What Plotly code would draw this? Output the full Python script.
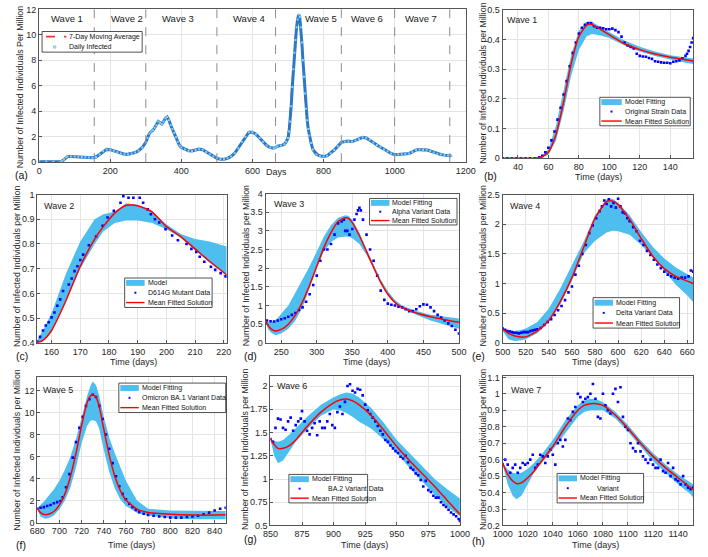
import plotly.graph_objects as go

W, H = 708, 557
FONT = "Liberation Sans, Arial, sans-serif"
BAND = "#4DBEEE"
DOT = "#0000FF"
RED = "#FF0000"

# ---------------- Panel (a): whole period ----------------
a_days = [0, 20, 40, 60, 65, 70, 75, 80, 90, 100, 110, 120, 130, 140, 150, 160, 170, 180, 190, 200,
          210, 220, 230, 240, 250, 260, 270, 280, 290, 300, 305, 310, 315, 320, 325, 330, 335, 340, 345,
          350, 355, 360, 365, 370, 375, 380, 385, 390, 395, 400, 410, 420, 430, 440, 450, 460, 470, 480,
          490, 500, 510, 520, 530, 540, 550, 560, 570, 580, 590, 600, 610, 620, 630, 640, 650, 660, 665,
          670, 680, 690, 695, 700, 703, 706, 709, 712, 715, 718, 721, 724, 727, 730, 733, 736, 739, 742,
          745, 748, 751, 754, 757, 760, 765, 770, 780, 790, 800, 810, 820, 830, 840, 850, 860, 870, 880,
          890, 900, 910, 920, 930, 940, 950, 960, 970, 980, 990, 1000, 1010, 1020, 1030, 1040, 1050, 1060,
          1070, 1080, 1090, 1100, 1110, 1120, 1130, 1140, 1150, 1160]
a_daily = [0.02, 0.02, 0.02, 0.03, 0.1, 0.22, 0.38, 0.44, 0.45, 0.44, 0.43, 0.41, 0.38, 0.36, 0.35, 0.4,
           0.6, 0.85, 1.0, 0.98, 0.9, 0.78, 0.68, 0.62, 0.62, 0.68, 0.75, 0.9, 1.15, 1.55, 1.9, 2.25, 2.4,
           2.5, 2.7, 2.9, 3.2, 3.1, 3.0, 3.2, 3.45, 3.55, 3.3, 2.9, 2.6, 2.3, 1.95, 1.6, 1.3, 1.15, 1.0,
           0.9, 0.88, 0.95, 1.02, 0.98, 0.8, 0.62, 0.45, 0.3, 0.22, 0.22, 0.3, 0.45, 0.7, 1.1, 1.6, 2.0,
           2.35, 2.35, 2.2, 1.9, 1.6, 1.3, 1.15, 1.1, 1.15, 1.25, 1.3, 1.4, 1.6, 1.9, 2.4, 3.2, 4.4, 5.9,
           7.3, 8.6, 9.6, 10.6, 11.2, 11.6, 11.4, 10.6, 9.4, 8.0, 6.7, 5.4, 4.2, 3.3, 2.6, 2.1, 1.5, 1.0,
           0.6, 0.5, 0.45, 0.5, 0.7, 0.95, 1.25, 1.55, 1.62, 1.65, 1.6, 1.7, 1.82, 1.95, 1.9, 1.75, 1.55,
           1.35, 1.2, 1.0, 0.85, 0.68, 0.58, 0.6, 0.62, 0.65, 0.68, 0.8, 0.95, 1.0, 0.95, 0.97, 0.88, 0.75,
           0.65, 0.6, 0.55, 0.52, 0.48]
ma_days = [0, 40, 60, 70, 80, 100, 130, 150, 170, 190, 210, 240, 270, 290, 300, 310, 320, 335, 345,
           360, 370, 380, 390, 400, 420, 450, 470, 500, 520, 540, 560, 580, 595, 610, 630, 650, 665, 680,
           695, 703, 709, 715, 721, 727, 731, 735, 740, 745, 750, 755, 760, 770, 790, 810, 830, 850, 870,
           890, 910, 930, 950, 970, 990, 1010, 1040, 1060, 1070, 1090, 1110, 1130, 1160]
ma_vals = [0.02, 0.02, 0.03, 0.22, 0.44, 0.44, 0.38, 0.35, 0.6, 1.0, 0.9, 0.62, 0.75, 1.15, 1.55, 2.25,
           2.5, 3.2, 3.0, 3.55, 2.9, 2.3, 1.6, 1.15, 0.9, 1.02, 0.8, 0.3, 0.22, 0.45, 1.1, 2.0, 2.38, 2.2,
           1.6, 1.15, 1.15, 1.3, 1.6, 2.6, 4.8, 7.6, 9.9, 11.3, 11.55, 10.9, 9.1, 6.8, 4.4, 3.1, 2.1, 1.0,
           0.5, 0.5, 0.95, 1.55, 1.65, 1.7, 1.95, 1.75, 1.35, 1.0, 0.68, 0.6, 0.68, 0.95, 1.0, 0.97, 0.75,
           0.6, 0.48]
wave_bounds = [155, 300, 500, 665, 850, 1000, 1155]
wave_names = ["Wave 1", "Wave 2", "Wave 3", "Wave 4", "Wave 5", "Wave 6", "Wave 7"]
wave_label_days = [79, 246, 391, 590, 792, 923, 1074]

# ---------------- Panel (b): Wave 1 ----------------
b_days = [30, 33, 36, 39, 42, 45, 48, 51, 54, 56, 58, 60, 62, 64, 66, 68, 70, 72, 74, 76, 78, 80, 82, 84,
          86, 88, 90, 92, 94, 96, 98, 100, 102, 104, 106, 108, 110, 112, 114, 116, 118, 120, 122, 124, 126,
          128, 130, 132, 134, 136, 138, 140, 142, 144, 146, 148, 150, 151, 152, 153, 154, 155]
b_data = [0, 0, 0, 0, 0, 0, 0, 0, 0.003, 0.008, 0.02, 0.035, 0.06, 0.09, 0.13, 0.17, 0.215, 0.26, 0.31,
          0.355, 0.39, 0.42, 0.44, 0.45, 0.455, 0.455, 0.445, 0.44, 0.44, 0.438, 0.435, 0.435, 0.437, 0.432,
          0.425, 0.41, 0.39, 0.38, 0.375, 0.37, 0.352, 0.345, 0.343, 0.342, 0.338, 0.335, 0.327, 0.325,
          0.323, 0.322, 0.322, 0.32, 0.325, 0.327, 0.33, 0.337, 0.345, 0.352, 0.362, 0.375, 0.39, 0.405]
b_fit_x = [30, 50, 55, 60, 65, 70, 75, 80, 85, 88, 90, 95, 100, 110, 120, 130, 140, 150, 155]
b_mean = [0, 0, 0.003, 0.02, 0.08, 0.19, 0.32, 0.41, 0.448, 0.452, 0.447, 0.432, 0.416, 0.386, 0.366,
          0.351, 0.34, 0.332, 0.328]
b_hi = [0, 0, 0.004, 0.03, 0.11, 0.23, 0.35, 0.43, 0.46, 0.462, 0.455, 0.44, 0.425, 0.397, 0.376, 0.36,
        0.347, 0.338, 0.336]
b_lo = [0, 0, 0.001, 0.012, 0.06, 0.16, 0.28, 0.365, 0.41, 0.418, 0.418, 0.413, 0.405, 0.38, 0.36, 0.345,
        0.333, 0.322, 0.318]

# ---------------- Panel (c): Wave 2 ----------------
c_days = [155, 156, 157, 158, 159, 160, 161, 162, 163, 164, 166, 167, 168, 169, 170, 171, 173, 175.5,
          177.8, 179.5, 181.7, 184, 185, 186.8, 188.5, 190.7, 191.9, 193.5, 194.6, 196, 197.5, 199.7, 202,
          204, 207, 208.7, 210.4, 211.6, 213.2, 215.5, 217, 218.9, 220.6]
c_data = [0.405, 0.424, 0.45, 0.47, 0.483, 0.503, 0.523, 0.55, 0.576, 0.61, 0.636, 0.66, 0.69, 0.71,
          0.735, 0.757, 0.795, 0.83, 0.874, 0.907, 0.934, 0.967, 0.993, 0.987, 0.987, 0.987, 0.967, 0.94,
          0.92, 0.9, 0.887, 0.86, 0.834, 0.815, 0.8, 0.78, 0.768, 0.748, 0.728, 0.708, 0.695, 0.682, 0.669]
c_fit_x = [155, 157, 160, 165, 170, 175, 178, 182, 186, 190, 195, 200, 205, 210, 215, 221]
c_mean = [0.4, 0.41, 0.45, 0.57, 0.71, 0.82, 0.87, 0.925, 0.957, 0.955, 0.93, 0.87, 0.83, 0.78, 0.73, 0.675]
c_hi = [0.41, 0.45, 0.52, 0.68, 0.81, 0.9, 0.92, 0.93, 0.965, 0.958, 0.93, 0.88, 0.84, 0.82, 0.81, 0.79]
c_lo = [0.4, 0.41, 0.45, 0.57, 0.7, 0.8, 0.85, 0.885, 0.895, 0.895, 0.885, 0.86, 0.825, 0.775, 0.725, 0.675]

# ---------------- Panel (d): Wave 3 ----------------
d_days = [230, 235, 240, 245, 250, 255, 260, 265, 270, 275, 280, 285, 290, 295, 300, 305, 310, 315, 320,
          325, 330, 335, 338, 340, 343, 346, 350, 353, 356, 358, 360, 362, 365, 370, 375, 380, 385, 390, 395,
          400, 405, 410, 415, 420, 425, 430, 435, 440, 445, 450, 455, 460, 465, 470, 475, 480, 485, 490,
          495, 500]
d_data = [0.6, 0.58, 0.57, 0.6, 0.63, 0.66, 0.7, 0.75, 0.8, 0.88, 0.95, 1.1, 1.3, 1.55, 1.8, 2.2, 2.5,
          2.5, 2.65, 2.9, 3.2, 3.25, 3.3, 3.0, 3.0, 2.9, 3.05, 3.3, 3.45, 3.55, 3.62, 3.55, 3.3, 2.9, 2.5,
          2.2, 1.8, 1.4, 1.15, 1.05, 1.02, 1.0, 0.97, 0.95, 0.9, 0.85, 0.85, 0.9, 0.98, 1.03, 1.02, 0.95,
          0.85, 0.75, 0.68, 0.6, 0.52, 0.45, 0.35, 0.25]
d_fit_x = [228, 232, 236, 242, 250, 260, 270, 280, 290, 300, 310, 320, 330, 340, 345, 350, 360, 370, 380,
           390, 400, 410, 420, 440, 460, 480, 500]
d_mean = [0.6, 0.45, 0.37, 0.32, 0.36, 0.5, 0.75, 1.1, 1.55, 2.05, 2.55, 2.95, 3.25, 3.35, 3.33, 3.22,
          2.87, 2.45, 2.02, 1.62, 1.3, 1.08, 0.95, 0.8, 0.7, 0.62, 0.55]
d_hi = [0.6, 0.56, 0.55, 0.6, 0.78, 1.0, 1.35, 1.7, 2.05, 2.45, 2.85, 3.15, 3.35, 3.42, 3.4, 3.3, 2.95,
        2.5, 2.1, 1.7, 1.38, 1.15, 1.0, 0.85, 0.75, 0.69, 0.65]
d_lo = [0.55, 0.35, 0.27, 0.2, 0.25, 0.38, 0.6, 0.95, 1.45, 2.0, 2.45, 2.7, 2.82, 2.85, 2.84, 2.8, 2.65,
        2.35, 2.0, 1.6, 1.27, 1.05, 0.92, 0.75, 0.6, 0.48, 0.38]

# ---------------- Panel (e): Wave 4 ----------------
e_days = [500, 502, 504, 506, 508, 510, 512, 514, 516, 518, 520, 522, 524, 526, 528, 530, 533, 536, 539,
          542, 545, 548, 551, 554, 557, 560, 563, 566, 569, 572, 575, 578, 581, 584, 586, 588, 590, 592,
          594, 596, 598, 600, 602, 604, 606, 608, 610, 613, 616, 619, 622, 625, 628, 631, 634, 637, 640,
          643, 646, 649, 652, 655, 658, 661, 663, 665]
e_data = [0.24, 0.22, 0.2, 0.19, 0.18, 0.17, 0.17, 0.16, 0.17, 0.18, 0.18, 0.18, 0.2, 0.21, 0.22, 0.23,
          0.25, 0.3, 0.35, 0.4, 0.47, 0.55, 0.62, 0.72, 0.85, 0.95, 1.15, 1.3, 1.5, 1.65, 1.85, 1.98, 2.1,
          2.22, 2.3, 2.4, 2.34, 2.42, 2.3, 2.36, 2.28, 2.43, 2.3, 2.2, 2.18, 2.1, 2.05, 1.95, 1.88, 1.72,
          1.65, 1.55, 1.48, 1.4, 1.32, 1.26, 1.2, 1.15, 1.12, 1.1, 1.08, 1.1, 1.1, 1.12, 1.22, 1.2]
e_fit_x = [500, 505, 510, 515, 520, 530, 540, 550, 560, 570, 580, 590, 595, 600, 610, 620, 630, 640, 650,
           660, 665]
e_mean = [0.23, 0.16, 0.12, 0.1, 0.1, 0.2, 0.38, 0.7, 1.1, 1.6, 2.1, 2.38, 2.39, 2.33, 2.08, 1.76, 1.46,
          1.25, 1.12, 1.04, 1.0]
e_hi = [0.23, 0.21, 0.2, 0.21, 0.24, 0.35, 0.58, 0.92, 1.3, 1.7, 2.15, 2.42, 2.43, 2.36, 2.15, 1.87, 1.62,
        1.42, 1.27, 1.15, 1.1]
e_lo = [0.2, 0.06, 0.03, 0.04, 0.06, 0.16, 0.35, 0.65, 1.05, 1.5, 1.72, 1.86, 1.89, 1.88, 1.82, 1.65,
        1.45, 1.22, 0.98, 0.8, 0.69]

# ---------------- Panel (f): Wave 5 ----------------
f_days = [680, 683, 686, 689, 692, 695, 698, 701, 703, 706, 709, 712, 715, 718, 721, 724, 727, 730, 733,
          736, 739, 742, 745, 748, 751, 754, 757, 760, 763, 766, 769, 772, 776, 780, 785, 790, 795, 800,
          805, 810, 815, 820, 825, 830, 835, 840, 845, 850]
f_data = [1.25, 1.35, 1.4, 1.5, 1.6, 1.75, 1.85, 1.95, 2.3, 3.2, 4.4, 5.9, 7.3, 8.6, 9.6, 10.6, 11.2,
          11.6, 11.4, 10.6, 9.4, 8.0, 6.7, 5.4, 4.2, 3.3, 2.6, 2.1, 1.7, 1.4, 1.15, 0.95, 0.8, 0.7, 0.62,
          0.55, 0.5, 0.45, 0.45, 0.45, 0.5, 0.55, 0.62, 0.75, 0.9, 1.1, 1.25, 1.35]
f_fit_x = [680, 683, 687, 690, 695, 700, 705, 710, 715, 720, 725, 728, 730, 733, 736, 740, 745, 750, 755,
           760, 770, 780, 800, 820, 840, 850]
f_mean = [1.3, 0.9, 0.72, 0.75, 1.0, 1.6, 2.6, 4.2, 6.3, 8.8, 10.9, 11.5, 11.6, 11.4, 10.5, 8.5, 6.1,
          4.2, 2.9, 2.05, 1.22, 0.92, 0.75, 0.68, 0.68, 0.7]
f_hi = [1.3, 1.6, 2.0, 2.4, 3.0, 3.8, 4.8, 6.0, 7.6, 9.5, 11.5, 12.4, 12.8, 12.5, 11.5, 9.6, 7.7, 6.3,
        5.0, 3.8, 2.0, 1.25, 1.1, 1.05, 1.05, 1.05]
f_lo = [1.2, 0.55, 0.35, 0.38, 0.65, 1.2, 2.0, 3.2, 5.0, 7.2, 8.8, 9.25, 9.3, 9.2, 8.5, 6.6, 4.6, 3.1,
        2.1, 1.5, 0.9, 0.65, 0.4, 0.3, 0.3, 0.3]

# ---------------- Panel (g): Wave 6 ----------------
g_days = [850, 852, 854, 856, 858, 860, 862, 864, 866, 868, 870, 872, 874, 875, 877, 879, 881, 883, 885,
          887, 889, 891, 893, 895, 897, 899, 901, 903, 905, 907, 909, 911, 913, 915, 917, 919, 921, 923,
          925, 927, 929, 931, 933, 935, 937, 939, 941, 943, 945, 947, 949, 951, 953, 955, 957, 959, 961,
          963, 965, 967, 969, 971, 973, 975, 977, 979, 981, 983, 985, 987, 989, 991, 993, 995, 997, 999,
          1000]
g_data = [1.43, 1.4, 1.55, 1.65, 1.64, 1.55, 1.53, 1.62, 1.66, 1.52, 1.58, 1.62, 1.65, 1.73, 1.62, 1.52,
          1.48, 1.55, 1.6, 1.47, 1.62, 1.55, 1.55, 1.62, 1.7, 1.58, 1.55, 1.72, 1.78, 1.7, 1.83, 2.0, 2.02,
          1.95, 1.93, 1.97, 1.96, 1.9, 1.8, 1.74, 1.7, 1.66, 1.62, 1.57, 1.52, 1.48, 1.42, 1.4, 1.36, 1.33,
          1.3, 1.28, 1.24, 1.22, 1.25, 1.18, 1.12, 1.1, 1.06, 1.04, 0.99, 0.92, 0.98, 0.88, 0.86, 0.82,
          0.8, 0.8, 0.75, 0.72, 0.7, 0.67, 0.64, 0.62, 0.6, 0.57, 0.55]
g_fit_x = [850, 853, 856, 860, 865, 870, 880, 890, 900, 905, 910, 915, 920, 930, 940, 950, 960, 970, 980,
           990, 1000]
g_mean = [1.43, 1.37, 1.33, 1.33, 1.36, 1.42, 1.58, 1.72, 1.82, 1.85, 1.86, 1.84, 1.8, 1.68, 1.52, 1.35,
          1.2, 1.06, 0.92, 0.77, 0.62]
g_hi = [1.43, 1.41, 1.4, 1.42, 1.48, 1.55, 1.68, 1.8, 1.88, 1.91, 1.93, 1.92, 1.88, 1.76, 1.6, 1.42,
        1.28, 1.13, 1.0, 0.89, 0.79]
g_lo = [1.43, 1.25, 1.17, 1.2, 1.3, 1.4, 1.55, 1.68, 1.75, 1.74, 1.71, 1.67, 1.62, 1.54, 1.42, 1.28,
        1.12, 0.97, 0.83, 0.7, 0.6]

# ---------------- Panel (h): Wave 7 ----------------
h_days = [1000, 1002, 1004, 1006, 1008, 1010, 1012, 1014, 1016, 1018, 1020, 1022, 1024, 1026, 1028, 1030,
          1032, 1034, 1036, 1038, 1040, 1042, 1044, 1046, 1048, 1050, 1052, 1054, 1056, 1058, 1060, 1062,
          1064, 1066, 1068, 1070, 1072, 1074, 1076, 1078, 1080, 1082, 1084, 1086, 1088, 1090, 1092, 1094,
          1096, 1098, 1100, 1102, 1104, 1106, 1108, 1110, 1112, 1114, 1116, 1118, 1120, 1122, 1124, 1126,
          1128, 1130, 1132, 1134, 1136, 1138, 1140, 1142, 1144, 1146, 1148, 1150, 1152]
h_data = [0.57, 0.6, 0.57, 0.52, 0.55, 0.57, 0.52, 0.55, 0.58, 0.57, 0.58, 0.6, 0.63, 0.55, 0.57, 0.63,
          0.62, 0.58, 0.62, 0.66, 0.63, 0.57, 0.7, 0.72, 0.68, 0.72, 0.85, 0.84, 0.89, 0.92, 1.0, 0.98,
          0.95, 0.97, 0.98, 1.0, 1.06, 0.97, 0.86, 0.85, 1.0, 0.93, 0.9, 0.88, 1.0, 1.03, 0.95, 1.04, 0.86,
          0.8, 0.78, 0.7, 0.67, 0.65, 0.7, 0.65, 0.62, 0.6, 0.58, 0.6, 0.57, 0.55, 0.55, 0.6, 0.53, 0.52,
          0.58, 0.5, 0.55, 0.48, 0.47, 0.45, 0.5, 0.45, 0.43, 0.42, 0.43]
h_fit_x = [1000, 1004, 1008, 1011, 1015, 1020, 1025, 1030, 1040, 1050, 1060, 1065, 1070, 1075, 1080, 1090,
           1100, 1110, 1120, 1130, 1140, 1150, 1152]
h_mean = [0.58, 0.51, 0.47, 0.455, 0.46, 0.49, 0.53, 0.58, 0.68, 0.8, 0.9, 0.93, 0.94, 0.94, 0.93, 0.87,
          0.79, 0.7, 0.62, 0.55, 0.49, 0.43, 0.42]
h_hi = [0.58, 0.54, 0.52, 0.515, 0.52, 0.545, 0.58, 0.62, 0.72, 0.84, 0.93, 0.96, 0.97, 0.965, 0.95, 0.89,
        0.81, 0.72, 0.64, 0.57, 0.51, 0.46, 0.45]
h_lo = [0.57, 0.45, 0.38, 0.36, 0.38, 0.45, 0.52, 0.57, 0.66, 0.76, 0.86, 0.89, 0.9, 0.9, 0.9, 0.85,
        0.77, 0.68, 0.59, 0.52, 0.45, 0.39, 0.37]


def fx(x):
    return x / W


def fy(y):
    return 1 - y / H


fig = go.Figure()
shapes = []
annots = []

# panel layout: key, axis suffix, pixel box (x0, x1, y_top, y_bottom), ranges, ticks
panels = [
    ("a", "", (30, 469, 4.5, 160), [0, 1200], [0, 12], (0, 200), (0, 2)),
    ("b", "2", (507, 703, 5, 156), [30, 155], [0, 0.5], (40, 20), (0, 0.1)),
    ("c", "3", (28, 223, 193, 344), [155, 221], [0.4, 1.0], (160, 10), (0.4, 0.1)),
    ("d", "4", (263, 462, 192, 344), [228, 500], [0, 4], (250, 50), (0, 0.5)),
    ("e", "5", (507, 703, 193, 344), [500, 665], [0, 2.5], (500, 20), (0, 0.5)),
    ("f", "6", (28, 222, 379, 527), [680, 850], [0, 13.2], (680, 20), (0, 2)),
    ("g", "7", (268, 463, 378, 530), [850, 1000], [0.5, 2.106], (850, 25), (0.5, 0.25)),
    ("h", "8", (507, 703, 378, 530), [1000, 1152], [0.2, 1.107], (1000, 20), (0.2, 0.1)),
]

axis_common = dict(showline=True, linecolor="#555555", linewidth=1, mirror=True, ticks="inside",
                   ticklen=3, tickcolor="#555555", showgrid=True, gridcolor="#e4e4e4", gridwidth=1,
                   zeroline=False, tickfont=dict(size=9, color="#262626", family=FONT))

layout_axes = {}
for key, suf, (x0, x1, yt, yb), xr, yr, (xt0, xdt), (yt0, ydt) in panels:
    layout_axes["xaxis" + suf] = dict(axis_common, domain=[fx(x0), fx(x1)], range=xr, tick0=xt0, dtick=xdt,
                                      anchor="y" + suf)
    layout_axes["yaxis" + suf] = dict(axis_common, domain=[fy(yb), fy(yt)], range=yr, tick0=yt0, dtick=ydt,
                                      anchor="x" + suf)

# ---- panel (a) traces (moving average underneath the daily data)
fig.add_trace(go.Scatter(x=ma_days, y=ma_vals, mode="lines", name="7-Day Moving Average",
                         line=dict(color="#FF3030", width=1.6, dash="dash"), showlegend=False,
                         xaxis="x", yaxis="y"))
fig.add_trace(go.Scatter(x=a_days, y=a_daily, mode="lines", line=dict(color="#2a78c6", width=3.0),
                         showlegend=False, xaxis="x", yaxis="y", hoverinfo="skip"))
fig.add_trace(go.Scatter(x=a_days, y=a_daily, mode="markers", name="Daily Infected",
                         marker=dict(symbol="square", size=2, color="#8fd0f0", line=dict(width=0)),
                         showlegend=False, xaxis="x", yaxis="y"))
for b in wave_bounds:
    shapes.append(dict(type="line", xref="x", yref="y domain", x0=b, x1=b, y0=0, y1=1,
                       line=dict(color="#8c8c8c", width=1, dash="dash"), layer="above"))
for nm, d in zip(wave_names, wave_label_days):
    annots.append(dict(x=d, y=fy(14), xref="x", yref="paper", text=nm, showarrow=False,
                       font=dict(size=9.5, color="#1a1a1a", family=FONT), xanchor="center", yanchor="middle"))

# ---- wave panels traces
wave_sets = [
    ("2", b_days, b_data, b_fit_x, b_mean, b_hi, b_lo),
    ("3", c_days, c_data, c_fit_x, c_mean, c_hi, c_lo),
    ("4", d_days, d_data, d_fit_x, d_mean, d_hi, d_lo),
    ("5", e_days, e_data, e_fit_x, e_mean, e_hi, e_lo),
    ("6", f_days, f_data, f_fit_x, f_mean, f_hi, f_lo),
    ("7", g_days, g_data, g_fit_x, g_mean, g_hi, g_lo),
    ("8", h_days, h_data, h_fit_x, h_mean, h_hi, h_lo),
]
for suf, dx, dy, fxs, mean, hi, lo in wave_sets:
    fig.add_trace(go.Scatter(x=fxs + fxs[::-1], y=hi + lo[::-1], fill="toself", fillcolor=BAND,
                             mode="lines", line=dict(width=0, color=BAND), name="Model Fitting",
                             showlegend=False, xaxis="x" + suf, yaxis="y" + suf, hoverinfo="skip"))
    fig.add_trace(go.Scatter(x=dx, y=dy, mode="markers", name="Data",
                             marker=dict(symbol="square", size=2.6, color=DOT, line=dict(width=0)),
                             showlegend=False, xaxis="x" + suf, yaxis="y" + suf))
    fig.add_trace(go.Scatter(x=fxs, y=mean, mode="lines", name="Mean Fitted Solution",
                             line=dict(color=RED, width=1.5, shape="spline", smoothing=0.6),
                             showlegend=False, xaxis="x" + suf, yaxis="y" + suf))


# ---- legends (drawn as boxes in page coordinates)
def legend_box(box, entries, icon_w=19):
    x0, y0, x1, y1 = box
    shapes.append(dict(type="rect", xref="paper", yref="paper", x0=fx(x0), x1=fx(x1), y0=fy(y0), y1=fy(y1),
                       line=dict(color="#262626", width=0.8), fillcolor="white", layer="above"))
    n = len(entries)
    rh = (y1 - y0) / n
    ic = x0 + 1.5 + icon_w / 2
    for i, (kind, label, off) in enumerate(entries):
        yc = y0 + (i + 0.5) * rh
        if kind == "band":
            shapes.append(dict(type="rect", xref="paper", yref="paper", x0=fx(x0 + 1.5), x1=fx(x0 + 1.5 + icon_w),
                               y0=fy(yc + 3), y1=fy(yc - 3), line=dict(width=0), fillcolor=BAND, layer="above"))
        elif kind == "dot":
            shapes.append(dict(type="rect", xref="paper", yref="paper", x0=fx(ic - 1), x1=fx(ic + 1),
                               y0=fy(yc + 1), y1=fy(yc - 1), line=dict(width=0), fillcolor=DOT, layer="above"))
        elif kind == "sq":
            shapes.append(dict(type="rect", xref="paper", yref="paper", x0=fx(ic - 1.2), x1=fx(ic + 1.2),
                               y0=fy(yc + 1.2), y1=fy(yc - 1.2), line=dict(width=0.6, color="#6fb5e0"),
                               fillcolor="#b5e0f5", layer="above"))
        elif kind == "line":
            shapes.append(dict(type="line", xref="paper", yref="paper", x0=fx(x0 + 1.5), x1=fx(x0 + 1.5 + icon_w),
                               y0=fy(yc), y1=fy(yc), line=dict(color=RED, width=1.4), layer="above"))
        elif kind == "dash":
            shapes.append(dict(type="line", xref="paper", yref="paper", x0=fx(x0 + 4), x1=fx(x0 + 2 + icon_w),
                               y0=fy(yc), y1=fy(yc), line=dict(color="#FF3030", width=1.6, dash="dash"),
                               layer="above"))
        annots.append(dict(x=fx(x0 + icon_w + 2.5 + off), y=fy(yc), xref="paper", yref="paper", text=label,
                           showarrow=False, xanchor="left", yanchor="middle",
                           font=dict(size=7, color="#111111", family=FONT)))


legend_box((33, 27, 136, 48), [("dash", "7-Day Moving Average", 0), ("sq", "Daily Infected", 0)], icon_w=23)
legend_box((607, 94, 700, 123), [("band", "Model Fitting", 0), ("dot", "Original Strain Data", 0),
                                 ("line", "Mean Fitted Solution", 0)], icon_w=21)
legend_box((118, 278, 208, 308), [("band", "Model", 0), ("dot", "D614G Mutant Data", 0),
                                  ("line", "Mean Fitted Solution", 0)])
legend_box((370, 197, 460, 224), [("band", "Model Fitting", 0), ("dot", "Alpha Variant Data", 0),
                                  ("line", "Mean Fitted Solution", 0)])
legend_box((600, 298, 689, 329), [("band", "Model Fitting", 0), ("dot", "Delta Variant Data", 0),
                                  ("line", "Mean Fitted Solution", 0)])
legend_box((112, 385, 222, 415), [("band", "Model Fitting", 0), ("dot", "Omicron BA.1 Variant Data", 0),
                                  ("line", "Mean Fitted Solution", 0)])
legend_box((287, 478, 368, 507), [("band", "Model Fitting", 0), ("dot", "BA.2 Variant Data", 17),
                                  ("line", "Mean Fitted Solution", 0)])
legend_box((563, 477, 652, 507), [("band", "Model Fitting", 0), ("dot", "Variant", 18),
                                  ("line", "Mean Fitted Solution", 0)])

# ---- titles and labels
ytitles = [
    (11, 84, "Number of Infected Individuals Per Million"),
    (486, 80, "Number of Infected Individuals per Million"),
    (7, 266, "Number of Infected Individuals per Million"),
    (243, 266, "Number of Infected Individuals per Million"),
    (487, 266, "Number of Infected Individuals per Million"),
    (7, 453, "Number of Infected Individuals per Million"),
    (242, 453, "Number of Infected Individuals per Million"),
    (487, 453, "Number of Infected Individuals per Million"),
]
for x, y, t in ytitles:
    annots.append(dict(x=fx(x), y=fy(y), xref="paper", yref="paper", text=t, textangle=-90, showarrow=False,
                       xanchor="center", yanchor="middle", font=dict(size=8.8, color="#262626", family=FONT)))

xtitles = [(606, 175), (127, 364), (367, 364), (603, 364), (125, 550), (365, 550), (603, 550)]
for x, y in xtitles:
    annots.append(dict(x=fx(x), y=fy(y), xref="paper", yref="paper", text="Time (days)", showarrow=False,
                       xanchor="center", yanchor="middle", font=dict(size=9, color="#262626", family=FONT)))
annots.append(dict(x=fx(274), y=fy(170), xref="paper", yref="paper", text="Days", showarrow=False,
                   xanchor="center", yanchor="middle", font=dict(size=9, color="#262626", family=FONT)))

plabels = [(12, 173, "(a)"), (494, 174, "(b)"), (12, 357, "(c)"), (247, 357, "(d)"), (482, 357, "(e)"),
           (11, 550, "(f)"), (247, 544, "(g)"), (482, 546, "(h)")]
for x, y, t in plabels:
    annots.append(dict(x=fx(x), y=fy(y), xref="paper", yref="paper", text=t, showarrow=False,
                       xanchor="center", yanchor="middle", font=dict(size=10.5, color="#111111", family=FONT)))

wlabels = [(527, 15, "Wave 1"), (50, 205, "Wave 2"), (287, 203, "Wave 3"), (530, 205, "Wave 4"),
           (49, 392, "Wave 5"), (290, 388, "Wave 6"), (531, 392, "Wave 7")]
for x, y, t in wlabels:
    annots.append(dict(x=fx(x), y=fy(y), xref="paper", yref="paper", text=t, showarrow=False,
                       xanchor="center", yanchor="middle", font=dict(size=9, color="#1a1a1a", family=FONT)))

fig.update_layout(
    width=W, height=H, margin=dict(l=0, r=0, t=0, b=0),
    paper_bgcolor="white", plot_bgcolor="white",
    font=dict(family=FONT, color="#262626"),
    showlegend=False, shapes=shapes, annotations=annots,
    **layout_axes,
)

fig.write_html("out.html")
